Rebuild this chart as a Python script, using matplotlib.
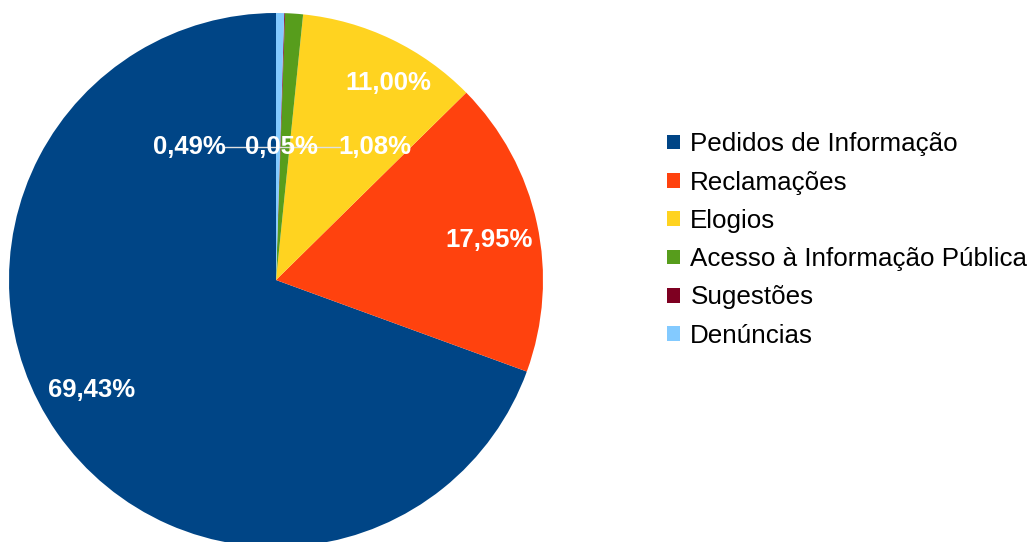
import numpy as np
import matplotlib
matplotlib.use("Agg")
import matplotlib.pyplot as plt

categories = ["Pedidos de Informação", "Reclamações", "Elogios",
              "Acesso à Informação Pública", "Sugestões", "Denúncias"]
values = [69.43, 17.95, 11.00, 1.08, 0.05, 0.49]
labels = ["69,43%", "17,95%", "11,00%", "1,08%", "0,05%", "0,49%"]
colors = ["#004586", "#ff420e", "#ffd320", "#579d1c", "#7e0021", "#83caff"]

# label positions (data coords, pie radius 1) - small slices are pushed sideways
label_pos = [(-0.689, -0.412), (0.798, 0.150), (0.419, 0.738),
             (0.371, 0.498), (0.019, 0.498), (-0.326, 0.498)]

plt.rcParams['font.family'] = ['Liberation Sans', 'DejaVu Sans']

W, H = 1033, 542
fig = plt.figure(figsize=(W / 100, H / 100), dpi=100)

cx, cy, r = 276, 280, 267
ax = fig.add_axes([(cx - r) / W, (H - cy - r) / H, 2 * r / W, 2 * r / H])
wedges, _ = ax.pie(values, colors=colors, startangle=90, counterclock=True,
                   radius=1, wedgeprops=dict(linewidth=0))
ax.set_xlim(-1, 1)
ax.set_ylim(-1, 1)
ax.set_aspect("equal")
ax.axis("off")

# leader line for the three crowded labels
ax.plot([label_pos[5][0] + 0.135, label_pos[3][0] - 0.13],
        [label_pos[3][1]] * 2, color="#e0e0e0", lw=1, zorder=3)

for (x, y), txt in zip(label_pos, labels):
    ax.text(x, y, txt, color="white", fontsize=18.5, fontweight="bold",
            ha="center", va="center", zorder=4)

fig.legend(wedges, categories, loc="center left",
           bbox_to_anchor=(667 / W, 1 - 240 / H), frameon=False,
           fontsize=18.7, handlelength=0.5, handleheight=0.5,
           handletextpad=0.4, labelspacing=0.55, borderpad=0,
           borderaxespad=0)

fig.savefig("out.png", dpi=100)
